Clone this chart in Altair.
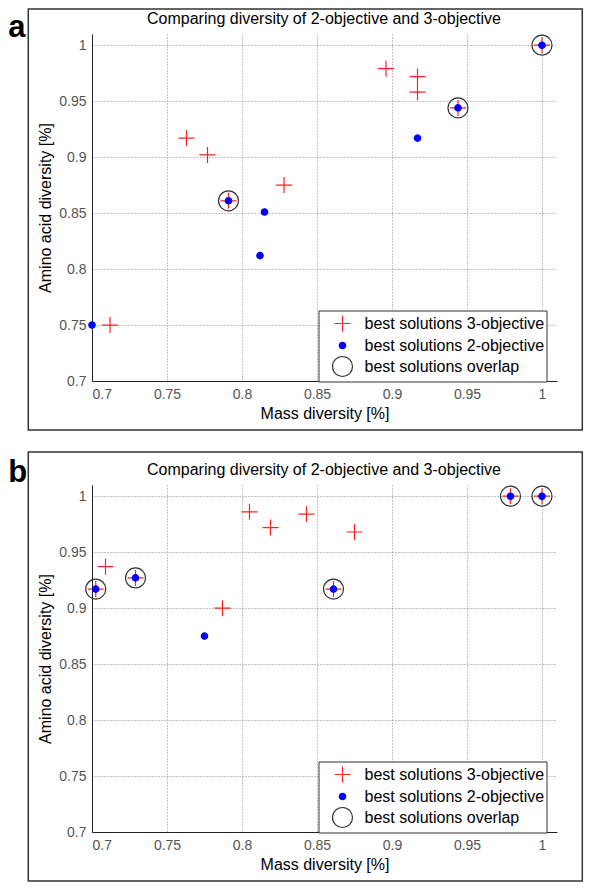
import altair as alt
import pandas as pd

S3 = "best solutions 3-objective"
S2 = "best solutions 2-objective"
SO = "best solutions overlap"
SERIES = [S3, S2, SO]

TITLE = "Comparing diversity of 2-objective and 3-objective"
X_TITLE = "Mass diversity [%]"
Y_TITLE = "Amino acid diversity [%]"
TICKS = [0.7, 0.75, 0.8, 0.85, 0.9, 0.95, 1.0]

# panel a
a3_x = [0.712, 0.763, 0.777, 0.791, 0.828, 0.896, 0.917, 0.917, 0.944, 1.0]
a3_y = [0.750, 0.917, 0.902, 0.861, 0.875, 0.979, 0.972, 0.958, 0.944, 1.0]
a2_x = [0.700, 0.791, 0.815, 0.812, 0.917, 0.944, 1.0]
a2_y = [0.750, 0.861, 0.851, 0.812, 0.917, 0.944, 1.0]
ao_x = [0.791, 0.944, 1.0]
ao_y = [0.861, 0.944, 1.0]

# panel b
b3_x = [0.7025, 0.709, 0.729, 0.787, 0.805, 0.819, 0.843, 0.861, 0.875, 0.979, 1.0]
b3_y = [0.917, 0.937, 0.927, 0.900, 0.986, 0.972, 0.984, 0.917, 0.968, 1.0, 1.0]
b2_x = [0.7025, 0.729, 0.775, 0.861, 0.979, 1.0]
b2_y = [0.917, 0.927, 0.875, 0.917, 1.0, 1.0]
bo_x = [0.7025, 0.729, 0.861, 0.979, 1.0]
bo_y = [0.917, 0.927, 0.917, 1.0, 1.0]

PLUS = "M-0.8,0L0.8,0M0,-0.8L0,0.8"
DOT = "M-0.32,0A0.32,0.32 0 1,0 0.32,0A0.32,0.32 0 1,0 -0.32,0Z"
FONT = "Liberation Sans"

W, H = 465, 347


def make_df(x3, y3, x2, y2, xo, yo):
    rows = []
    for s, xs, ys in [(S3, x3, y3), (S2, x2, y2), (SO, xo, yo)]:
        for xv, yv in zip(xs, ys):
            rows.append({"mass": xv, "amino": yv, "series": s})
    return pd.DataFrame(rows)


def panel(df, letter, frame_top, letter_y):
    one = pd.DataFrame({"k": [0]})
    box = alt.Chart(one).mark_rect(fill="transparent", stroke="#333", strokeWidth=1.5).encode(
        x=alt.value(-63.7), x2=alt.value(490.3),
        y=alt.value(frame_top), y2=alt.value(396),
    )
    lab = alt.Chart(one).mark_text(
        font=FONT, fontSize=31, fontWeight="bold", align="left", baseline="alphabetic", color="black"
    ).encode(x=alt.value(-83.7), y=alt.value(letter_y), text=alt.value(letter))
    ttl = alt.Chart(one).mark_text(
        font=FONT, fontSize=16, align="center", baseline="middle", color="black"
    ).encode(x=alt.value(232), y=alt.value(-15), text=alt.value(TITLE))

    legend = alt.Legend(
        title=None, orient="none", legendX=226.5, legendY=276.5,
        strokeColor="#333", fillColor="white", padding=2,
        labelFont=FONT, labelFontSize=16, labelColor="black",
        symbolSize=400, symbolStrokeWidth=1.2, rowPadding=0,
        symbolOffset=11, labelOffset=11, labelLimit=400,
    )
    pts = alt.Chart(df).mark_point(size=400, strokeWidth=1.2, opacity=1).encode(
        x=alt.X("mass:Q", title=X_TITLE,
                scale=alt.Scale(domain=[0.7, 1.01], nice=False, zero=False),
                axis=alt.Axis(values=TICKS, format=".2~f")),
        y=alt.Y("amino:Q", title=Y_TITLE,
                scale=alt.Scale(domain=[0.7, 1.01], nice=False, zero=False),
                axis=alt.Axis(values=TICKS, format=".2~f")),
        shape=alt.Shape("series:N", scale=alt.Scale(domain=SERIES, range=[PLUS, DOT, "circle"]), legend=legend),
        stroke=alt.Stroke("series:N", scale=alt.Scale(domain=SERIES, range=["#ff2020", "#0000ff", "#333333"]), legend=legend),
        fill=alt.Fill("series:N", scale=alt.Scale(domain=SERIES, range=["transparent", "#0000ff", "transparent"]), legend=legend),
    )
    return alt.layer(box, lab, ttl, pts).properties(width=W, height=H)


pa = panel(make_df(a3_x, a3_y, a2_x, a2_y, ao_x, ao_y), "a", -25, 3)
pb = panel(make_df(b3_x, b3_y, b2_x, b2_y, bo_x, bo_y), "b", -33, -3)

chart = alt.vconcat(pa, pb, spacing=20).resolve_scale(
    shape="independent", stroke="independent", fill="independent"
).properties(padding=0).configure_view(stroke=None).configure_axis(
    labelFont=FONT, labelFontSize=14, labelColor="#555",
    titleFont=FONT, titleFontSize=16, titleFontWeight="normal", titleColor="black",
    domainColor="#222", domainWidth=1, ticks=False,
    grid=True, gridDash=[1, 2], gridColor="#888", gridOpacity=1,
    labelPadding=6,
).configure_axisX(titlePadding=4).configure_axisY(titlePadding=5)

chart.save("out.html", embed_options={"renderer": "svg", "actions": False})
